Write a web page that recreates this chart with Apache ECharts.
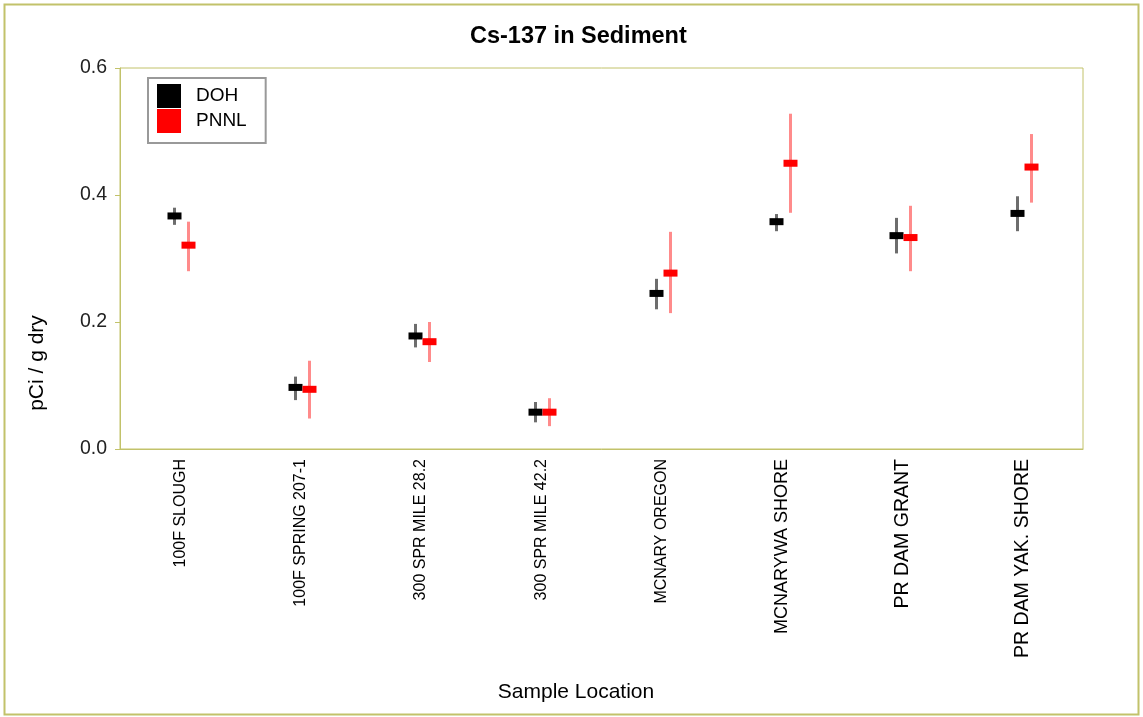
<!DOCTYPE html>
<html>
<head>
<meta charset="utf-8">
<script src="https://cdn.jsdelivr.net/npm/echarts@6/dist/echarts.min.js"></script>
<style>html,body{margin:0;padding:0;background:#fff;}#c{width:1143px;height:717px;}</style>
</head>
<body>
<div id="c"></div>
<script>
const categories = ['100F SLOUGH','100F SPRING 207-1','300 SPR MILE 28.2','300 SPR MILE 42.2','MCNARY OREGON','MCNARYWA SHORE','PR DAM GRANT','PR DAM YAK. SHORE'];
const yTicks = [0, 0.2, 0.4, 0.6];
const dohValue = [0.367, 0.097, 0.178, 0.058, 0.245, 0.358, 0.336, 0.371];
const dohLow   = [0.353, 0.077, 0.160, 0.042, 0.220, 0.343, 0.308, 0.343];
const dohHigh  = [0.380, 0.114, 0.197, 0.074, 0.268, 0.370, 0.364, 0.398];
const pnnlValue = [0.321, 0.094, 0.169, 0.058, 0.277, 0.450, 0.333, 0.444];
const pnnlLow   = [0.280, 0.048, 0.137, 0.036, 0.214, 0.372, 0.280, 0.388];
const pnnlHigh  = [0.358, 0.139, 0.200, 0.080, 0.342, 0.528, 0.383, 0.496];

function rows(v, lo, hi){ return v.map((d,i)=>[i, d, lo[i], hi[i]]); }
function renderer(offset, barColor, markColor){
  return function(params, api){
    const x = api.value(0);
    const c = api.coord([x, api.value(1)]);
    const lo = api.coord([x, api.value(2)]);
    const hi = api.coord([x, api.value(3)]);
    const cx = Math.round(c[0] + offset) + 0.5;
    return {type:'group', children:[
      {type:'line', shape:{x1:cx, y1:hi[1], x2:cx, y2:lo[1]}, style:{stroke:barColor, lineWidth:3}},
      {type:'rect', shape:{x:cx-7, y:c[1]-3.5, width:14, height:7}, style:{fill:markColor}}
    ]};
  };
}
const FONT = 'Liberation Sans, Arial, sans-serif';
const labelSizes = [16, 16, 16, 16, 16, 18, 19.5, 19.5];
const rich = {};
labelSizes.forEach((s,i)=>{ rich['s'+i] = {fontSize:s, fontFamily:FONT, color:'#000'}; });
const olive = '#c2c26a';
const chart = echarts.init(document.getElementById('c'));
chart.setOption({
  animation:false,
  backgroundColor:'#fff',
  title:{text:'Cs-137 in Sediment', left:465, top:20, textStyle:{fontFamily:FONT, fontSize:23.5, fontWeight:'bold', color:'#000'}},
  grid:{left:120, top:68, right:60, bottom:268, show:true, borderColor:olive, borderWidth:1, backgroundColor:'#fff'},
  legend:{left:148, top:78, orient:'vertical', selectedMode:false, icon:'rect', itemWidth:24, itemHeight:24, itemGap:1,
    borderColor:'#999', borderWidth:2, padding:[6,19,10,9], backgroundColor:'#fff',
    textStyle:{fontFamily:FONT, fontSize:19, color:'#000', padding:[0,0,0,10]},
    data:[{name:'DOH', itemStyle:{color:'#000'}},{name:'PNNL', itemStyle:{color:'#ff0000'}}]},
  xAxis:{type:'category', data:categories, boundaryGap:true,
    axisLine:{lineStyle:{color:olive}}, axisTick:{alignWithLabel:true, length:5, lineStyle:{color:olive}},
    axisLabel:{rotate:90, margin:10, interval:0, fontFamily:FONT, color:'#000',
      formatter:(v,i)=>'{s'+i+'|'+v+'}', rich:rich}},
  yAxis:{type:'value', min:0, max:0.6, interval:0.2, splitLine:{show:false},
    axisLine:{show:true, lineStyle:{color:olive}}, axisTick:{show:true, length:5, lineStyle:{color:olive}},
    axisLabel:{margin:13, fontFamily:FONT, fontSize:19.5, color:'#222', formatter:v=>yTicks.includes(+v.toFixed(1))?v.toFixed(1):''}},
  graphic:[
    {type:'rect', shape:{x:4.5, y:4.5, width:1134, height:710}, style:{fill:null, stroke:olive, lineWidth:2}, silent:true, z:-1},
    {type:'text', x:37, y:363, rotation:Math.PI/2, style:{text:'pCi / g dry', fontFamily:FONT, fontSize:21, fill:'#000', textAlign:'center', textVerticalAlign:'middle'}},
    {type:'text', x:576, y:692, style:{text:'Sample Location', fontFamily:FONT, fontSize:21, fill:'#000', textAlign:'center', textVerticalAlign:'middle'}}
  ],
  series:[
    {name:'DOH', type:'custom', renderItem:renderer(-6,'rgba(60,60,60,0.75)','#000'), itemStyle:{color:'#000'}, encode:{x:0,y:[1,2,3]}, data:rows(dohValue,dohLow,dohHigh)},
    {name:'PNNL', type:'custom', renderItem:renderer(8,'rgba(255,90,90,0.7)','#ff0000'), itemStyle:{color:'#ff0000'}, encode:{x:0,y:[1,2,3]}, data:rows(pnnlValue,pnnlLow,pnnlHigh)}
  ]
});
</script>
</body>
</html>
